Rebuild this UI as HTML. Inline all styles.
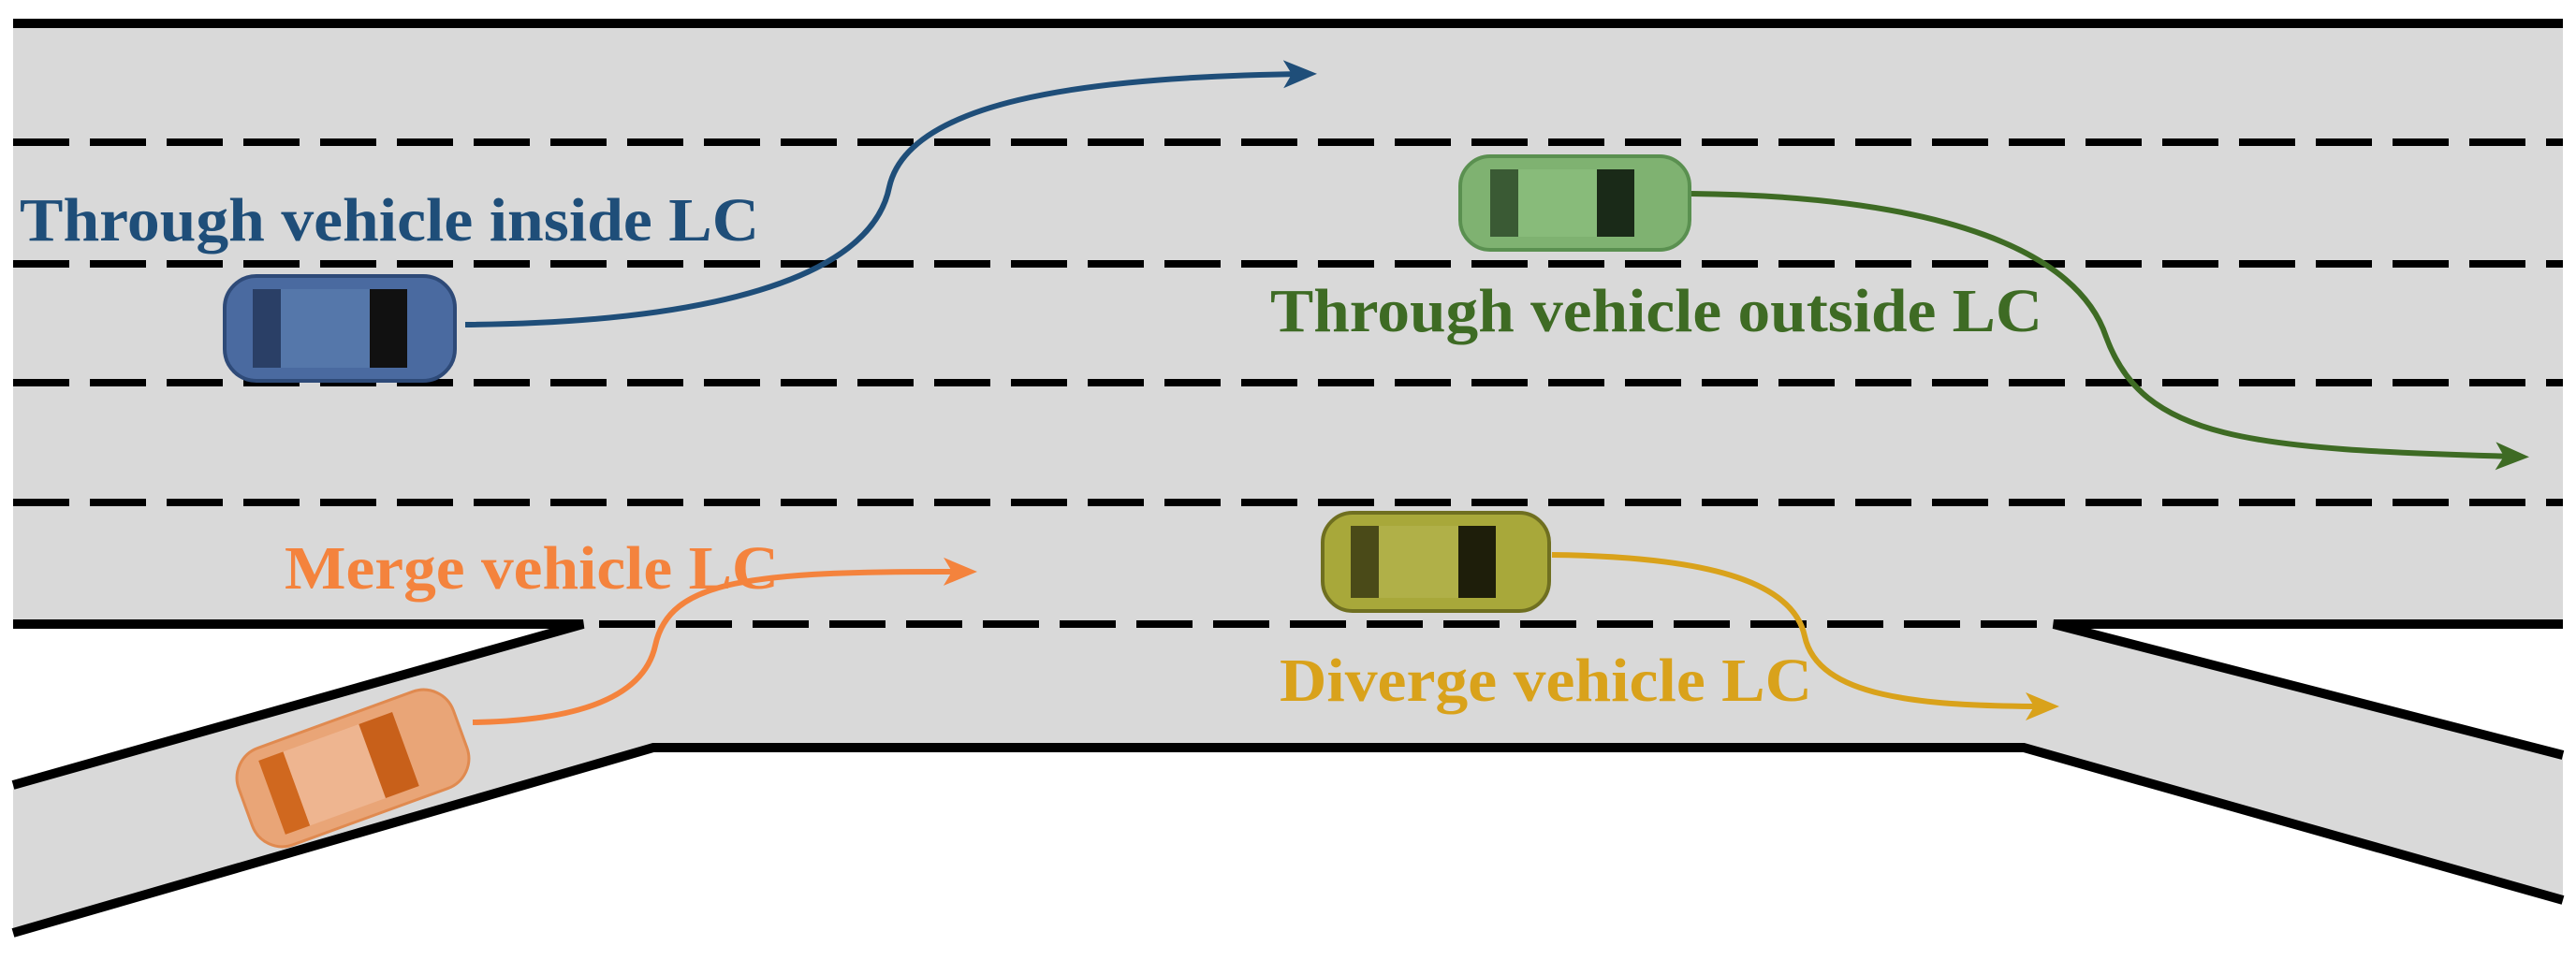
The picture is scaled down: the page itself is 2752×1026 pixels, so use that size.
<!DOCTYPE html>
<html><head><meta charset="utf-8"><style>
html,body{margin:0;padding:0;background:#fff;}
svg{display:block;}
text{font-family:"Liberation Serif",serif;font-weight:bold;}
</style></head><body>
<svg width="2752" height="1026" viewBox="0 0 2752 1026" xmlns="http://www.w3.org/2000/svg">
<defs>
<marker id="ab" markerWidth="6" markerHeight="6" refX="4" refY="3" orient="auto" markerUnits="strokeWidth"><path d="M0,0.5 L6,3 L0,5.5 L1.5,3 Z" fill="#1f4e79"/></marker>
<marker id="ag" markerWidth="6" markerHeight="6" refX="4" refY="3" orient="auto" markerUnits="strokeWidth"><path d="M0,0.5 L6,3 L0,5.5 L1.5,3 Z" fill="#3e6b24"/></marker>
<marker id="ay" markerWidth="6" markerHeight="6" refX="4" refY="3" orient="auto" markerUnits="strokeWidth"><path d="M0,0.5 L6,3 L0,5.5 L1.5,3 Z" fill="#d9a21b"/></marker>
<marker id="ao" markerWidth="6" markerHeight="6" refX="4" refY="3" orient="auto" markerUnits="strokeWidth"><path d="M0,0.5 L6,3 L0,5.5 L1.5,3 Z" fill="#f4833d"/></marker>
</defs>
<rect x="14" y="25" width="2724" height="642" fill="#d9d9d9"/>
<rect x="623" y="660" width="1571" height="139" fill="#d9d9d9"/>
<polygon points="14,839 623,667 698,799 14,997" fill="#d9d9d9"/>
<polygon points="2194,667 2738,807 2738,962 2162,799" fill="#d9d9d9"/>
<line x1="14" y1="25" x2="2738" y2="25" stroke="#000" stroke-width="10"/>
<polyline points="14,667 623,667 14,839" fill="none" stroke="#000" stroke-width="10"/>
<polyline points="14,997 698,799 2162,799 2738,962" fill="none" stroke="#000" stroke-width="10"/>
<polyline points="2738,667 2194,667 2738,807" fill="none" stroke="#000" stroke-width="10"/>
<g stroke="#000" stroke-width="8" stroke-dasharray="60 22">
<line x1="14" y1="152" x2="2738" y2="152"/>
<line x1="14" y1="282" x2="2738" y2="282"/>
<line x1="14" y1="409" x2="2738" y2="409"/>
<line x1="14" y1="537" x2="2738" y2="537"/>
<line x1="640" y1="667" x2="2185" y2="667"/>
</g>
<path d="M497,347 C750,345 930,300 950,200 C970,110 1150,82 1395,79" fill="none" stroke="#1f4e79" stroke-width="6" marker-end="url(#ab)"/>
<path d="M1807,207 C2080,210 2220,270 2250,360 C2290,470 2400,480 2690,488" fill="none" stroke="#3e6b24" stroke-width="6" marker-end="url(#ag)"/>
<path d="M1658,593 C1820,595 1915,620 1928,680 C1942,745 2050,755 2188,755" fill="none" stroke="#d9a21b" stroke-width="6" marker-end="url(#ay)"/>
<path d="M505,772 C640,770 690,735 700,690 C715,620 800,610 1032,611" fill="none" stroke="#f4833d" stroke-width="6" marker-end="url(#ao)"/>
<g transform="translate(240,295)">
<rect x="0" y="0" width="246" height="112" rx="34" fill="#4a6aa0" stroke="#2e4a78" stroke-width="4"/>
<rect x="30" y="14" width="30" height="84" fill="#2a3f66"/>
<rect x="60" y="14" width="95" height="84" fill="#5577aa"/>
<rect x="155" y="14" width="40" height="84" fill="#111"/>
</g>
<g transform="translate(1560,167)">
<rect x="0" y="0" width="245" height="100" rx="32" fill="#7fb271" stroke="#5a9050" stroke-width="4"/>
<rect x="32" y="14" width="30" height="72" fill="#3a5a34"/>
<rect x="62" y="14" width="84" height="72" fill="#88bb7a"/>
<rect x="146" y="14" width="40" height="72" fill="#1a2a18"/>
</g>
<g transform="translate(1413,548)">
<rect x="0" y="0" width="242" height="105" rx="32" fill="#a8a83a" stroke="#6f6f20" stroke-width="4"/>
<rect x="30" y="14" width="30" height="77" fill="#4a4a18"/>
<rect x="60" y="14" width="85" height="77" fill="#b0b048"/>
<rect x="145" y="14" width="40" height="77" fill="#1e1e0a"/>
</g>
<g transform="translate(377,821) rotate(-20)">
<rect x="-122" y="-55" width="244" height="110" rx="34" fill="#e9a577" stroke="#e08a50" stroke-width="3"/>
<rect x="-92" y="-42" width="28" height="84" fill="#d0681f"/>
<rect x="-64" y="-42" width="86" height="84" fill="#eeb590"/>
<rect x="22" y="-42" width="38" height="84" fill="#c8601a"/>
</g>
<text x="21" y="257" font-size="66" fill="#1f4e79" textLength="790" lengthAdjust="spacingAndGlyphs">Through vehicle inside LC</text>
<text x="1357" y="354" font-size="66" fill="#3e6b24" textLength="825" lengthAdjust="spacingAndGlyphs">Through vehicle outside LC</text>
<text x="304" y="629" font-size="66" fill="#f4833d" textLength="528" lengthAdjust="spacingAndGlyphs">Merge vehicle LC</text>
<text x="1367" y="749" font-size="66" fill="#d9a21b" textLength="569" lengthAdjust="spacingAndGlyphs">Diverge vehicle LC</text>
</svg>
</body></html>
